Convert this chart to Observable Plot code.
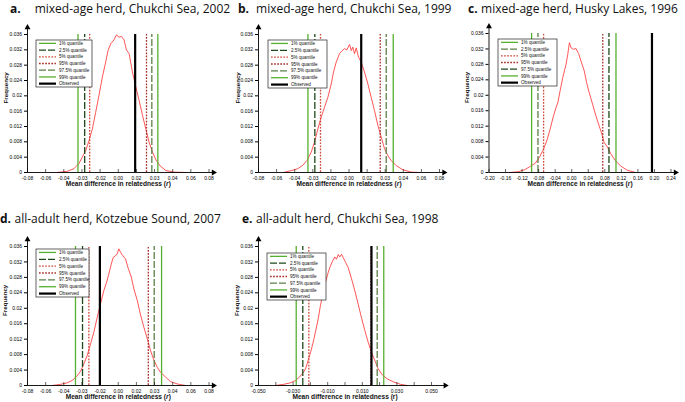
<!DOCTYPE html>
<html><head><meta charset="utf-8">
<script src="https://cdn.jsdelivr.net/npm/d3@7"></script>
<script src="https://cdn.jsdelivr.net/npm/@observablehq/plot@0.6"></script>
<style>
body{margin:0;background:#fff;}
#fig{position:relative;width:685px;height:402px;overflow:hidden;background:#fff;}
.panel{position:absolute;}
.tl{position:absolute;font-family:"Open Sans",Lato,sans-serif;font-size:12px;white-space:nowrap;color:#111;line-height:normal;}
.tl b{font-weight:bold;display:inline-block;}
</style></head><body><div id="fig"></div>
<script>
// ---------- data ----------
const titleLetters = ["a.", "b.", "c.", "d.", "e."];
const titleTexts = [
  "mixed-age herd, Chukchi Sea, 2002",
  "mixed-age herd, Chukchi Sea, 1999",
  "mixed-age herd, Husky Lakes, 1996",
  "all-adult herd, Kotzebue Sound, 2007",
  "all-adult herd, Chukchi Sea, 1998"
];
const legendLabels = ["1% quantile","2.5% quantile","5% quantile","95% quantile","97.5% quantile","99% quantile","Observed"];
const xLabelMain = "Mean difference in relatedness (";
const xLabelVar = "r";
const xLabelEnd = ")";
const yLabel = "Frequency";

const yTicks = [0,0.004,0.008,0.012,0.016,0.02,0.024,0.028,0.032,0.036];
const yTickLabels = ["0","0.004","0.008","0.012","0.016","0.02","0.024","0.028","0.032","0.036"];

const xTicksStd = [-0.08,-0.064,-0.048,-0.032,-0.016,0,0.016,0.032,0.048,0.064,0.08];
const xTickLabelsStd = ["-0.08","-0.06","-0.04","-0.03","-0.02","0.00","0.02","0.03","0.04","0.06","0.08"];
const xTicksC = [-0.2,-0.16,-0.12,-0.08,-0.04,0,0.04,0.08,0.12,0.16,0.2,0.24];
const xTickLabelsC = ["-0.20","-0.16","-0.12","-0.08","-0.04","0.00","0.04","0.08","0.12","0.16","0.20","0.24"];
const xTicksE = [-0.05,-0.03,-0.01,0.01,0.03,0.05];
const xTickLabelsE = ["-0.050","-0.030","-0.010","0.010","0.030","0.050"];
const xMinorE = [-0.04,-0.02,0,0.02,0.04];

// quantiles: 1%, 2.5%, 5%, 95%, 97.5%, 99%
const quantA = [-0.0355,-0.0296,-0.0252,0.0249,0.0296,0.0349];
const quantB = [-0.0363,-0.0302,-0.0252,0.0276,0.0329,0.0391];
const quantC = [-0.097,-0.0816,-0.068,0.075,0.090,0.107];
const quantD = [-0.0377,-0.0315,-0.0259,0.0265,0.0317,0.0382];
const quantE = [-0.0282,-0.0244,-0.0209,0.0150,0.0186,0.0224];
const observed = [0.0149, 0.0108, 0.194, -0.0162, 0.0153];

const curveA = [[-0.0538,0],[-0.0449,0.0003],[-0.0391,0.001],[-0.0347,0.0023],[-0.0317,0.004],[-0.0287,0.0057],[-0.0258,0.0083],[-0.0228,0.0114],[-0.0199,0.0157],[-0.017,0.0201],[-0.014,0.0249],[-0.0111,0.0288],[-0.009,0.0318],[-0.0066,0.0336],[-0.0037,0.0346],[-0.0016,0.0359],[0.0007,0.0353],[0.0028,0.0355],[0.0051,0.0346],[0.0072,0.032],[0.0096,0.031],[0.0125,0.0262],[0.0155,0.0223],[0.0184,0.0188],[0.0214,0.0149],[0.0243,0.0114],[0.0272,0.0079],[0.0302,0.0053],[0.0332,0.0033],[0.037,0.0017],[0.042,0.0005],[0.0493,0.0001],[0.0597,0]];
const curveB = [[-0.058,0],[-0.0496,0.0006],[-0.0452,0.001],[-0.0408,0.0019],[-0.037,0.0032],[-0.0334,0.0053],[-0.0305,0.0079],[-0.0275,0.0114],[-0.0246,0.0144],[-0.0217,0.017],[-0.0187,0.0196],[-0.0157,0.0231],[-0.0137,0.0262],[-0.0113,0.0288],[-0.0084,0.031],[-0.006,0.0318],[-0.004,0.0323],[-0.0019,0.032],[0.0005,0.0334],[0.002,0.0318],[0.0034,0.0327],[0.0049,0.031],[0.0064,0.0325],[0.0084,0.0301],[0.0108,0.0288],[0.0137,0.0262],[0.0167,0.0231],[0.0196,0.0196],[0.0225,0.0162],[0.0255,0.0123],[0.0285,0.0092],[0.0314,0.0062],[0.0344,0.0044],[0.0373,0.0031],[0.0417,0.0018],[0.0477,0.0007],[0.055,0.0001],[0.0623,0]];
const curveC = [[-0.150,0],[-0.130,0.0002],[-0.114,0.0007],[-0.100,0.0016],[-0.088,0.0024],[-0.0777,0.004],[-0.068,0.0061],[-0.060,0.0083],[-0.052,0.0113],[-0.044,0.0147],[-0.0377,0.0169],[-0.0336,0.0181],[-0.028,0.0212],[-0.0216,0.0246],[-0.0177,0.0263],[-0.0137,0.028],[-0.0096,0.0306],[-0.0056,0.0336],[-0.0016,0.0323],[0.0038,0.0319],[0.0103,0.0321],[0.0167,0.0308],[0.0223,0.0289],[0.0303,0.0263],[0.036,0.0233],[0.0422,0.0207],[0.0504,0.0177],[0.0583,0.0147],[0.0663,0.0121],[0.0727,0.0100],[0.0783,0.0078],[0.0863,0.0066],[0.0943,0.0049],[0.1046,0.0032],[0.118,0.0017],[0.134,0.0006],[0.154,0]];
const curveD = [[-0.0582,0],[-0.0509,0.0003],[-0.045,0.0007],[-0.0406,0.0013],[-0.0368,0.0023],[-0.0332,0.0037],[-0.0303,0.0056],[-0.0273,0.0078],[-0.0244,0.0108],[-0.0215,0.0138],[-0.0185,0.0177],[-0.0156,0.0212],[-0.0127,0.0246],[-0.0103,0.0267],[-0.0083,0.0289],[-0.0062,0.0314],[-0.0044,0.0332],[-0.0024,0.0336],[-0.0009,0.0341],[0.0005,0.0354],[0.002,0.0345],[0.0041,0.0336],[0.0064,0.0328],[0.0085,0.0306],[0.0115,0.0281],[0.0138,0.025],[0.0168,0.022],[0.0197,0.0182],[0.0226,0.0151],[0.0256,0.0121],[0.0285,0.009],[0.0314,0.0066],[0.0344,0.0047],[0.0373,0.0034],[0.0417,0.0022],[0.0461,0.001],[0.052,0.0004],[0.0593,0]];
const curveE = [[-0.0402,0],[-0.0354,0.0003],[-0.0315,0.0007],[-0.0286,0.0013],[-0.0263,0.0022],[-0.0244,0.0032],[-0.0228,0.0043],[-0.0213,0.0065],[-0.0199,0.0086],[-0.0186,0.0108],[-0.0171,0.0138],[-0.0155,0.0172],[-0.0142,0.0207],[-0.0128,0.0237],[-0.0113,0.0267],[-0.0097,0.0293],[-0.0084,0.031],[-0.0071,0.0323],[-0.0059,0.0333],[-0.0049,0.0327],[-0.0039,0.0339],[-0.003,0.0333],[-0.002,0.034],[-0.001,0.0331],[0.0003,0.0319],[0.0018,0.0306],[0.0038,0.0276],[0.0057,0.0245],[0.0076,0.0211],[0.0095,0.0176],[0.0115,0.0142],[0.0134,0.0112],[0.0153,0.0086],[0.0172,0.0065],[0.0192,0.0043],[0.0215,0.0028],[0.0244,0.0017],[0.0282,0.0009],[0.0321,0.0003],[0.036,0]];

// ---------- styles / layout ----------
const GREEN = "#55b02e", DARK = "#1d4a1a", MID = "#5d7f47", RED5 = "#d04a3c", RED95 = "#a5302a", CURVE = "#ff2b2b";
function qStyles(c25, c975) {
  return [
    {stroke: GREEN, w: 1.3, dash: null},
    {stroke: c25, w: 1.3, dash: "7,2"},
    {stroke: RED5, w: 1.3, dash: "1.7,1.4"},
    {stroke: RED95, w: 1.3, dash: "1.7,1.4"},
    {stroke: c975, w: 1.3, dash: "7,2"},
    {stroke: GREEN, w: 1.3, dash: null},
    {stroke: "#000", w: 2.2, dash: null}
  ];
}
const panels = [
  {left:0, top:0, w:225, h:200, mL:27, mR:16.5, mT:34, mB:28, dom:[-0.08,0.08], xEnd:0.084, ticks:xTicksStd, labs:xTickLabelsStd, minor:[], q:quantA, curve:curveA, st:qStyles(DARK,MID), legend:{x:36,y:40,w:56,h:47}, ylx:5.5, tlL:10, tlT:0, gap:14, ital:true},
  {left:225, top:0, w:230, h:200, mL:33, mR:16, mT:34, mB:28, dom:[-0.08,0.08], xEnd:0.084, ticks:xTicksStd, labs:xTickLabelsStd, minor:[], q:quantB, curve:curveB, st:qStyles(DARK,MID), legend:{x:43,y:40,w:59,h:48}, ylx:12.5, tlL:13, tlT:0, gap:7, ital:true},
  {left:455, top:0, w:230, h:200, mL:33.5, mR:14.5, mT:33, mB:28, dom:[-0.2,0.24], xEnd:0.251, ticks:xTicksC, labs:xTickLabelsC, minor:[], q:quantC, curve:curveC, st:qStyles(MID,DARK), legend:{x:43,y:39,w:59,h:47}, ylx:12, tlL:13, tlT:0, gap:3.5, ital:true},
  {left:0, top:200, w:225, h:202, mL:27, mR:16.5, mT:46, mB:17, dom:[-0.08,0.08], xEnd:0.084, ticks:xTicksStd, labs:xTickLabelsStd, minor:[], q:quantD, curve:curveD, st:qStyles(DARK,MID), legend:{x:36,y:49,w:53,h:48}, ylx:5, tlL:0, tlT:9.5, gap:3.5, ital:true},
  {left:225, top:200, w:230, h:202, mL:33, mR:24, mT:46, mB:17, dom:[-0.05,0.05], xEnd:0.058, ticks:xTicksE, labs:xTickLabelsE, minor:xMinorE, q:quantE, curve:curveE, st:qStyles(DARK,MID), legend:{x:42,y:53,w:59,h:47}, ylx:12, tlL:17, tlT:9.5, gap:3.5, ital:false}
];

const fig = document.getElementById("fig");
const FONT = "'Liberation Sans', Arial, sans-serif";
const xLabelFull = xLabelMain + xLabelVar + xLabelEnd;

panels.forEach((p, k) => {
  const yTop = 0.036 + 7 * 0.036 / (p.h - p.mB - p.mT);
  const tickLen = 3 * 0.036 / (p.h - p.mB - p.mT);
  const qMarks = p.q.map((v, i) => Plot.ruleX([v], {y1: 0, y2: 0.036, stroke: p.st[i].stroke, strokeWidth: p.st[i].w, strokeDasharray: p.st[i].dash}));
  const allTicks = p.ticks.concat(p.minor);
  const svg = Plot.plot({
    width: p.w, height: p.h,
    marginLeft: p.mL, marginRight: p.mR, marginTop: p.mT, marginBottom: p.mB,
    x: {domain: p.dom},
    y: {domain: [0, 0.036]},
    style: {fontFamily: FONT, background: "transparent", overflow: "visible"},
    marks: [
      Plot.line(p.curve, {x: d => d[0], y: d => d[1], stroke: CURVE, strokeWidth: 0.8}),
      ...qMarks,
      Plot.ruleX([observed[k]], {y1: 0, y2: 0.036, stroke: "#000", strokeWidth: 2.2}),
      Plot.ruleY([0], {x1: p.dom[0], x2: p.xEnd, stroke: "#000", strokeWidth: 0.9}),
      Plot.ruleX([p.dom[0]], {y1: 0, y2: yTop, stroke: "#000", strokeWidth: 0.9}),
      Plot.dot([[p.xEnd, 0]], {x: d => d[0], y: d => d[1], symbol: "triangle", r: 2.2, fill: "#000", stroke: null, rotate: 90}),
      Plot.dot([[p.dom[0], yTop]], {x: d => d[0], y: d => d[1], symbol: "triangle", r: 2.2, fill: "#000", stroke: null}),
      Plot.ruleX(allTicks, {y1: 0, y2: tickLen, stroke: "#000", strokeWidth: 0.6}),
      Plot.axisX({ticks: p.ticks, tickFormat: d => p.labs[p.ticks.indexOf(d)], tickSize: 0, tickPadding: 3.5, fontSize: 5, label: null}),
      Plot.axisY({ticks: yTicks, tickFormat: d => yTickLabels[yTicks.indexOf(d)], tickSize: 3, tickPadding: 2.5, fontSize: 5, label: null}),
      Plot.text([xLabelFull], {frameAnchor: "bottom", dy: 13, fontSize: 6.6, fontWeight: "bold", fill: "#111"}),
      Plot.text([yLabel], {frameAnchor: "left", dx: p.ylx - p.mL, rotate: -90, fontSize: 6.2, fontWeight: "bold", fill: "#111"})
    ]
  });
  svg.classList.add("panel");
  svg.style.left = p.left + "px";
  svg.style.top = p.top + "px";
  // italic variable in x label
  if (p.ital) {
    d3.select(svg).selectAll("text").filter(function() { return this.textContent === xLabelFull; }).each(function() {
      const el = d3.select(this);
      el.text(null);
      el.append("tspan").text(xLabelMain);
      el.append("tspan").attr("font-style", "italic").text(xLabelVar);
      el.append("tspan").text(xLabelEnd);
    });
  }
  // legend overlay
  const g = d3.select(svg).append("g").attr("font-family", FONT).attr("text-anchor", "start");
  const L = p.legend;
  g.append("rect").attr("x", L.x).attr("y", L.y).attr("width", L.w).attr("height", L.h)
    .attr("fill", "#fff").attr("stroke", "#222").attr("stroke-width", 0.7);
  const rowH = L.h / legendLabels.length;
  legendLabels.forEach((lab, i) => {
    const cy = L.y + rowH * (i + 0.5);
    const s = p.st[i];
    g.append("line").attr("x1", L.x + 3).attr("x2", L.x + 20).attr("y1", cy).attr("y2", cy)
      .attr("stroke", s.stroke).attr("stroke-width", s.w).attr("stroke-dasharray", s.dash);
    g.append("text").attr("x", L.x + 23).attr("y", cy).attr("dy", "0.35em").attr("font-size", 4.6)
      .attr("text-anchor", "start").attr("fill", "#111").text(lab);
  });
  fig.appendChild(svg);
  // title
  const t = document.createElement("div");
  t.className = "tl";
  const b = document.createElement("b");
  b.textContent = titleLetters[k];
  b.style.marginRight = p.gap + "px";
  t.appendChild(b);
  t.appendChild(document.createTextNode(titleTexts[k]));
  t.style.left = (p.left + p.tlL) + "px"; t.style.top = (p.top + p.tlT) + "px";
  fig.appendChild(t);
});
</script></body></html>
